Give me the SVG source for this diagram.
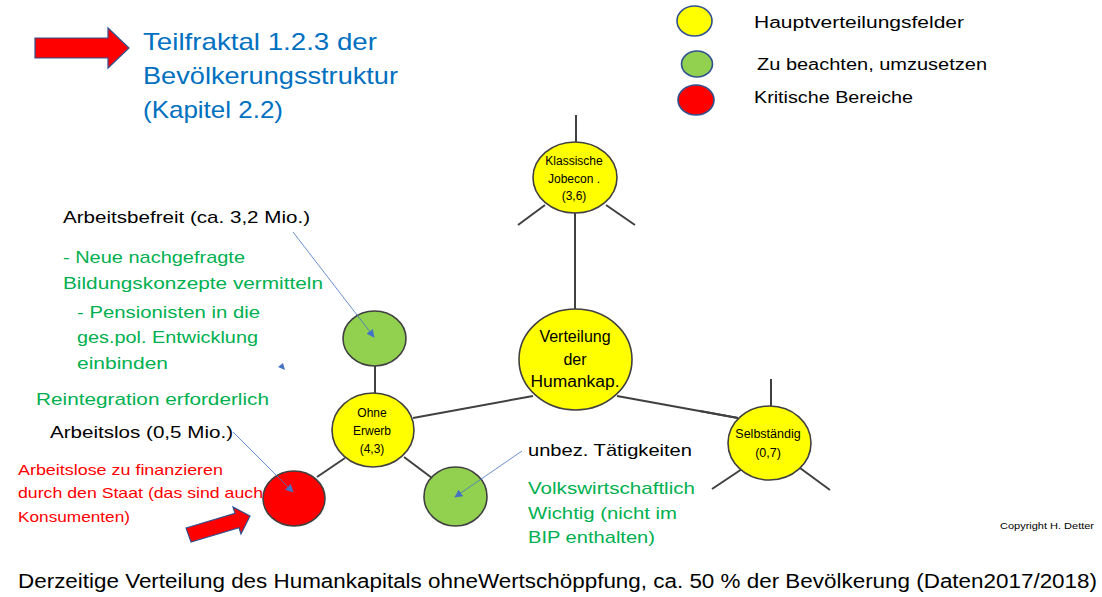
<svg xmlns="http://www.w3.org/2000/svg" width="1102" height="597" viewBox="0 0 1102 597">
<style>
text{font-family:"Liberation Sans",Arial,sans-serif}
.node{stroke:#404040;stroke-width:1.6}
.yel{fill:#FFFF00}
.grn{fill:#92D050}
.red{fill:#FF0000}
.leg{stroke:#2F528F;stroke-width:1.6}
.con{stroke:#404040;stroke-width:2;fill:none}
.ptr{stroke:#4472C4;stroke-width:0.8;fill:none}
.blk{fill:#000}
.gtx{fill:#00B050}
.rtx{fill:#FF0000}
.ttl{fill:#0070C0;font-size:24px}
.bigarrow{fill:#FF0000;stroke:#2F528F;stroke-width:1.2}
.nt{font-size:12px;text-anchor:middle;fill:#000}
</style>
<defs>
<marker id="ah" viewBox="0 0 10 10" refX="9" refY="5" markerWidth="8" markerHeight="8" markerUnits="userSpaceOnUse" orient="auto">
<path d="M0,0 L10,5 L0,10 z" fill="#4472C4"/>
</marker>
</defs>
<rect width="1102" height="597" fill="#fff"/>

<g id="title">
<polygon class="bigarrow" points="35,38 108,38 108,28 129,48 108,68 108,58 35,58"/>
<text class="ttl" x="143" y="50" textLength="234" lengthAdjust="spacingAndGlyphs">Teilfraktal  1.2.3 der</text>
<text class="ttl" x="143" y="84" textLength="255" lengthAdjust="spacingAndGlyphs">Bevölkerungsstruktur</text>
<text class="ttl" x="143" y="118" textLength="140" lengthAdjust="spacingAndGlyphs">(Kapitel 2.2)</text>
</g>

<g id="legend">
<ellipse class="leg yel" cx="694.5" cy="21" rx="17.5" ry="15"/>
<ellipse class="leg grn" cx="697" cy="64" rx="15.5" ry="13"/>
<ellipse class="leg red" cx="696" cy="100" rx="18" ry="15"/>
<text x="754" y="28" font-size="16" textLength="210" lengthAdjust="spacingAndGlyphs">Hauptverteilungsfelder</text>
<text x="757" y="70" font-size="16" textLength="230" lengthAdjust="spacingAndGlyphs">Zu beachten, umzusetzen</text>
<text x="754" y="103" font-size="16" textLength="159" lengthAdjust="spacingAndGlyphs">Kritische Bereiche</text>
</g>

<g id="connectors">
<line class="con" x1="576" y1="115" x2="576" y2="142"/>
<line class="con" x1="545" y1="205" x2="518" y2="225"/>
<line class="con" x1="606" y1="205" x2="635" y2="225"/>
<line class="con" x1="575" y1="213" x2="575" y2="309"/>
<line class="con" x1="413" y1="418" x2="533" y2="396"/>
<line class="con" x1="617" y1="396" x2="738" y2="418"/>
<line class="con" x1="700" y1="411" x2="738" y2="418"/>
<line class="con" x1="771" y1="379" x2="771" y2="406"/>
<line class="con" x1="742" y1="469" x2="712" y2="489"/>
<line class="con" x1="800" y1="468" x2="830" y2="490"/>
<line class="con" x1="375" y1="366" x2="375" y2="393"/>
<line class="con" x1="345" y1="458" x2="317" y2="477"/>
<line class="con" x1="404" y1="457" x2="432" y2="478"/>
</g>

<g id="node-klassische">
<ellipse class="node yel" cx="575" cy="177.5" rx="42" ry="35.5"/>
<text class="nt" x="574" y="165">Klassische</text>
<text class="nt" x="574" y="183">Jobecon .</text>
<text class="nt" x="574" y="200">(3,6)</text>
</g>

<g id="node-verteilung">
<ellipse class="node yel" cx="575.5" cy="359.5" rx="56.5" ry="50.5"/>
<text class="nt" x="575" y="342" style="font-size:16px">Verteilung</text>
<text class="nt" x="575" y="365" style="font-size:16px">der</text>
<text class="nt" x="575" y="387" style="font-size:16px" textLength="89" lengthAdjust="spacingAndGlyphs">Humankap.</text>
</g>

<g id="node-selbstaendig">
<ellipse class="node yel" cx="769.5" cy="443" rx="41.5" ry="37"/>
<text class="nt" x="768" y="438" style="font-size:12.5px">Selbständig</text>
<text class="nt" x="768" y="457" style="font-size:12.5px">(0,7)</text>
</g>

<g id="node-ohne-erwerb">
<ellipse class="node yel" cx="373" cy="430" rx="41" ry="37"/>
<text class="nt" x="372" y="417">Ohne</text>
<text class="nt" x="372" y="435">Erwerb</text>
<text class="nt" x="372" y="453">(4,3)</text>
</g>

<g id="node-arbeitsbefreit">
<ellipse class="node grn" cx="374.5" cy="338.5" rx="31.5" ry="27.5"/>
</g>

<g id="node-arbeitslos">
<ellipse class="node red" cx="294" cy="498.5" rx="31" ry="27.5"/>
</g>

<g id="node-unbezahlt">
<ellipse class="node grn" cx="455.5" cy="496.5" rx="31.5" ry="29.5"/>
</g>

<g id="pointers">
<line class="ptr" x1="293" y1="232" x2="374" y2="337" marker-end="url(#ah)"/>
<line class="ptr" x1="233" y1="432" x2="293" y2="492" marker-end="url(#ah)"/>
<line class="ptr" x1="522" y1="451" x2="455" y2="497" marker-end="url(#ah)"/>
<polygon points="283,363 278,367 285,370" fill="#4472C4"/>
</g>

<g id="labels">
<text class="blk" x="63" y="223" font-size="17" textLength="247" lengthAdjust="spacingAndGlyphs">Arbeitsbefreit (ca. 3,2 Mio.)</text>
<text class="gtx" x="63" y="263" font-size="17" textLength="182" lengthAdjust="spacingAndGlyphs">- Neue nachgefragte</text>
<text class="gtx" x="63" y="289" font-size="17" textLength="260" lengthAdjust="spacingAndGlyphs">Bildungskonzepte vermitteln</text>
<text class="gtx" x="77" y="318" font-size="17" textLength="183" lengthAdjust="spacingAndGlyphs">- Pensionisten in die</text>
<text class="gtx" x="77" y="343" font-size="17" textLength="181" lengthAdjust="spacingAndGlyphs">ges.pol. Entwicklung</text>
<text class="gtx" x="77" y="369" font-size="17" textLength="91" lengthAdjust="spacingAndGlyphs">einbinden</text>
<text class="gtx" x="36" y="405" font-size="17" textLength="233" lengthAdjust="spacingAndGlyphs">Reintegration erforderlich</text>
<text class="blk" x="50" y="438" font-size="17" textLength="183" lengthAdjust="spacingAndGlyphs">Arbeitslos (0,5 Mio.)</text>
<text class="rtx" x="18" y="475" font-size="14.5" textLength="205" lengthAdjust="spacingAndGlyphs">Arbeitslose zu finanzieren</text>
<text class="rtx" x="18" y="498" font-size="14.5" textLength="245" lengthAdjust="spacingAndGlyphs">durch den Staat (das sind auch</text>
<text class="rtx" x="18" y="522" font-size="14.5" textLength="112" lengthAdjust="spacingAndGlyphs">Konsumenten)</text>
<text class="blk" x="528" y="456" font-size="17" textLength="164" lengthAdjust="spacingAndGlyphs">unbez. Tätigkeiten</text>
<text class="gtx" x="528" y="494" font-size="17" textLength="167" lengthAdjust="spacingAndGlyphs">Volkswirtschaftlich</text>
<text class="gtx" x="528" y="519" font-size="17" textLength="149" lengthAdjust="spacingAndGlyphs">Wichtig (nicht im</text>
<text class="gtx" x="528" y="543" font-size="17" textLength="127" lengthAdjust="spacingAndGlyphs">BIP enthalten)</text>
<text class="blk" x="1000" y="529" font-size="8.5" textLength="94" lengthAdjust="spacingAndGlyphs">Copyright  H.  Detter</text>
<text class="blk" x="18" y="588" font-size="20" textLength="1079" lengthAdjust="spacingAndGlyphs">Derzeitige Verteilung des Humankapitals ohneWertschöppfung, ca. 50 % der Bevölkerung (Daten2017/2018)</text>
</g>

<g id="red-arrow">
<polygon class="bigarrow" points="186,528 235,513.3 233,507 250,516 241,534 239,527.7 191,542"/>
</g>
</svg>
